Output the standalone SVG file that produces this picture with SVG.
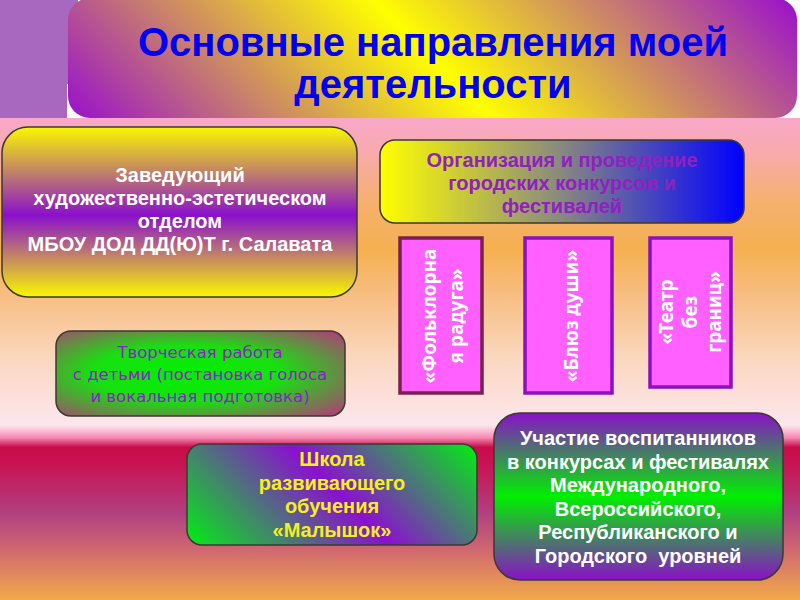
<svg xmlns="http://www.w3.org/2000/svg" width="800" height="600" viewBox="0 0 800 600">
<defs>
<linearGradient id="bg" x1="0" y1="118" x2="0" y2="600" gradientUnits="userSpaceOnUse">
<stop offset="0" stop-color="#f8a8c8"/>
<stop offset="0.066" stop-color="#f8aab0"/>
<stop offset="0.17" stop-color="#f6b070"/>
<stop offset="0.274" stop-color="#f5b050"/>
<stop offset="0.378" stop-color="#f8c088"/>
<stop offset="0.502" stop-color="#fad8c0"/>
<stop offset="0.637" stop-color="#fde6ee"/>
<stop offset="0.662" stop-color="#f890b8"/>
<stop offset="0.683" stop-color="#c80c48"/>
<stop offset="0.72" stop-color="#c81454"/>
<stop offset="0.82" stop-color="#b04080"/>
<stop offset="0.896" stop-color="#d06870"/>
<stop offset="1" stop-color="#f2aa48"/>
</linearGradient>
<linearGradient id="gTitle" x1="224" y1="274" x2="648" y2="-149" gradientUnits="userSpaceOnUse">
<stop offset="0" stop-color="#9910cc"/>
<stop offset="0.5" stop-color="#ffff00"/>
<stop offset="1" stop-color="#9910cc"/>
</linearGradient>
<linearGradient id="gB1" x1="0" y1="0" x2="0" y2="1">
<stop offset="0" stop-color="#fbf800"/>
<stop offset="0.52" stop-color="#8a10cc"/>
<stop offset="1" stop-color="#fbf800"/>
</linearGradient>
<linearGradient id="gB2" x1="0" y1="0" x2="1" y2="0">
<stop offset="0" stop-color="#ffff00"/>
<stop offset="0.5" stop-color="#888880"/>
<stop offset="1" stop-color="#0000ff"/>
</linearGradient>
<radialGradient id="gB4" cx="0.45" cy="0.5" r="0.72">
<stop offset="0" stop-color="#00f000"/>
<stop offset="0.45" stop-color="#18e010"/>
<stop offset="1" stop-color="#b03c78"/>
</radialGradient>
<linearGradient id="gB5" x1="234" y1="593" x2="430" y2="397" gradientUnits="userSpaceOnUse">
<stop offset="0" stop-color="#00f010"/>
<stop offset="0.52" stop-color="#8a10d0"/>
<stop offset="1" stop-color="#00f010"/>
</linearGradient>
<linearGradient id="gB6" x1="0" y1="0" x2="0" y2="1">
<stop offset="0" stop-color="#8a10c8"/>
<stop offset="0.5" stop-color="#00f000"/>
<stop offset="1" stop-color="#8a10c8"/>
</linearGradient>
</defs>
<style>
.box{stroke:#3a3a30;stroke-width:1.5}
.t{font-family:"Liberation Sans",Arial,sans-serif;font-weight:bold;font-size:20px;text-anchor:middle}
.w{fill:#ffffff}
.p{fill:#9020c0}
.y{fill:#f4f020}
.t4{font-family:"DejaVu Sans",Verdana,sans-serif;font-size:16.5px;text-anchor:middle;fill:#8a20c8}
.pink{fill:#ff60ff;stroke-width:3.5}
.rt{font-family:"Noto Sans","DejaVu Sans",sans-serif;font-weight:bold;font-size:19px;text-anchor:middle;fill:#ffffff}
.title{font-family:"Liberation Sans",Arial,sans-serif;font-weight:bold;font-size:40px;text-anchor:middle;fill:#0000ee}
</style>
<g id="background">
<rect x="0" y="0" width="800" height="600" fill="url(#bg)"/>
<rect x="0" y="0" width="800" height="118" fill="#ffffff"/>
<path d="M0 0 H78 V84 H67 V118 H0 Z" fill="#a868c0"/>
</g>
<g id="title">
<rect x="68" y="-2" width="729" height="120" rx="22" fill="url(#gTitle)"/>
<text class="title" x="433" y="56">Основные направления моей</text>
<text class="title" x="433" y="98">деятельности</text>
</g>
<g id="node-head">
<rect class="box" x="2" y="127" width="355" height="170" rx="26" fill="url(#gB1)" stroke="#5a4a1a"/>
<text class="t w" x="180"><tspan x="180" y="182">Заведующий</tspan><tspan x="180" y="205">художественно-эстетическом</tspan><tspan x="180" y="228">отделом</tspan><tspan x="180" y="251">МБОУ ДОД ДД(Ю)Т г. Салавата</tspan></text>
</g>
<g id="node-contests">
<rect class="box" x="380" y="140" width="364" height="83" rx="15" fill="url(#gB2)"/>
<text class="t p"><tspan x="562" y="167">Организация и проведение</tspan><tspan x="562" y="190">городских конкурсов и</tspan><tspan x="562" y="213">фестивалей</tspan></text>
</g>
<g id="node-folk">
<rect class="pink" x="400" y="238" width="82" height="155" stroke="#7a1f50"/>
<text class="rt" transform="translate(441,316) rotate(-90)"><tspan x="0" y="-5">«Фольклорна</tspan><tspan x="0" y="22">я радуга»</tspan></text>
</g>
<g id="node-blues">
<rect class="pink" x="525" y="238" width="87" height="155" stroke="#8c10c0"/>
<text class="rt" transform="translate(568,316) rotate(-90)"><tspan x="0" y="10">«Блюз души»</tspan></text>
</g>
<g id="node-theatre">
<rect class="pink" x="650" y="238" width="81" height="149" stroke="#8c10c0"/>
<text class="rt" transform="translate(690,312) rotate(-90)"><tspan x="0" y="-17">«Театр</tspan><tspan x="0" y="7">без</tspan><tspan x="0" y="31">границ»</tspan></text>
</g>
<g id="node-creative">
<rect class="box" x="56" y="331" width="289" height="85" rx="15" fill="url(#gB4)"/>
<text class="t4"><tspan x="200" y="358">Творческая работа</tspan><tspan x="200" y="380">с детьми (постановка голоса</tspan><tspan x="200" y="402">и вокальная подготовка)</tspan></text>
</g>
<g id="node-school">
<rect class="box" x="187" y="444" width="290" height="101" rx="15" fill="url(#gB5)"/>
<text class="t y"><tspan x="332" y="466">Школа</tspan><tspan x="332" y="490">развивающего</tspan><tspan x="332" y="513">обучения</tspan><tspan x="332" y="537">«Малышок»</tspan></text>
</g>
<g id="node-participation">
<rect class="box" x="494" y="413" width="289" height="167" rx="26" fill="url(#gB6)"/>
<text class="t w" style="white-space:pre"><tspan x="638" y="445">Участие воспитанников</tspan><tspan x="638" y="468.6">в конкурсах и фестивалях</tspan><tspan x="638" y="492">Международного,</tspan><tspan x="638" y="515.8">Всероссийского,</tspan><tspan x="638" y="539.4">Республиканского и</tspan><tspan x="638" y="563">Городского  уровней</tspan></text>
</g>
<g id="connectors"></g>
</svg>
